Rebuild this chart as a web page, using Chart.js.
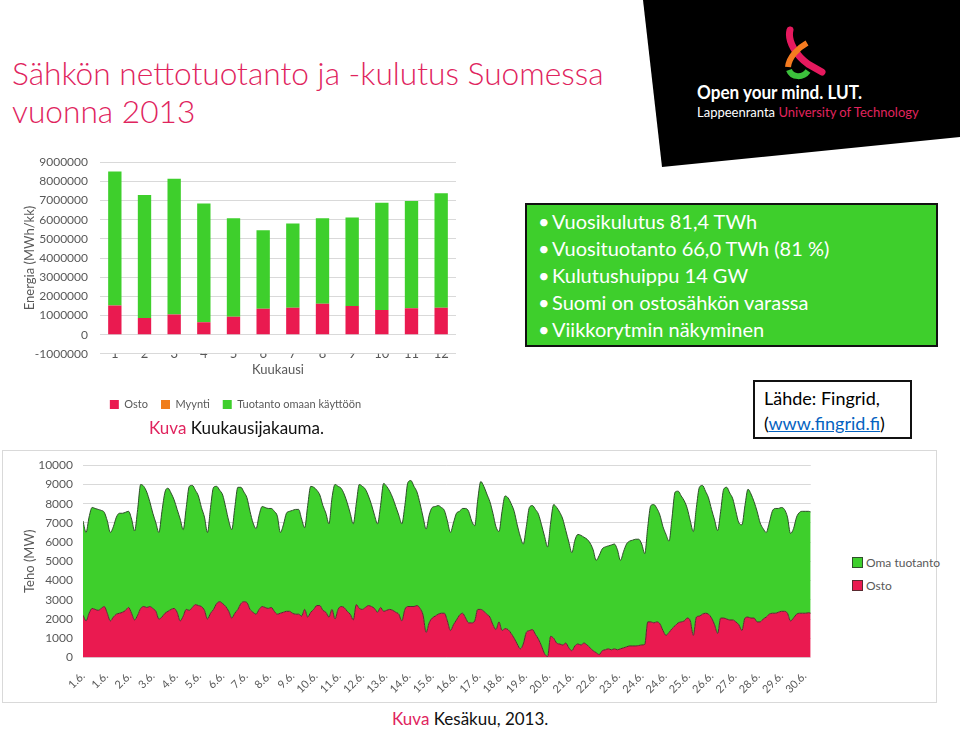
<!DOCTYPE html>
<html>
<head>
<meta charset="utf-8">
<script src="https://cdn.jsdelivr.net/npm/chart.js@4.4.1/dist/chart.umd.min.js"></script>
<style>
  body { margin: 0; width: 960px; height: 732px; position: relative; overflow: hidden; background: #fff; font-family: Lato, "Open Sans", sans-serif; }
  .abs { position: absolute; }
  #title { left: 12px; top: 54px; font-size: 31.7px; line-height: 38px; color: #e0245e; font-weight: 300; white-space: nowrap; }
  #logo { left: 640px; top: 0; width: 320px; height: 170px; background: #000; clip-path: polygon(3px 0, 320px 0, 320px 137px, 22px 167px); }
  #logo .l1 { position: absolute; left: 57px; top: 80px; color: #fff; font-size: 19px; font-weight: 700; white-space: nowrap; transform: scaleX(0.9); transform-origin: left; }
  #logo .l2 { position: absolute; left: 57px; top: 104px; color: #fff; font-size: 13px; white-space: nowrap; }
  #logo .l2 span { color: #e0245e; }
  #info { left: 525px; top: 203px; width: 409px; height: 137px; background: #3ecf2c; border: 2px solid #111; color: #fff; font-size: 20px; padding-top: 3px; box-sizing: content-box; }
  #info div { height: 27px; line-height: 27px; padding-left: 25px; position: relative; white-space: nowrap; }
  #info div::before { content: "•"; position: absolute; left: 11px; }
  #src { left: 753px; top: 380px; width: 159px; height: 59px; border: 2px solid #111; font-size: 18px; line-height: 25px; padding: 4px 0 0 9px; box-sizing: border-box; white-space: nowrap; }
  #src a { color: #0563c1; text-decoration: underline; }
  .cap { font-size: 17px; color: #111; white-space: nowrap; }
  .cap b { color: #e0245e; font-weight: 400; }
  #frame { left: 2px; top: 450px; width: 935px; height: 253px; border: 1px solid #d9d9d9; box-sizing: border-box; }
  #leg2 { left: 852px; top: 556px; font-size: 12px; color: #595959; }
  #leg2 div { height: 23px; line-height: 14px; white-space: nowrap; }
  #leg2 i { display: inline-block; width: 9px; height: 9px; margin-right: 3px; vertical-align: -1px; border: 1px solid; }
</style>
</head>
<body>
<div id="title" class="abs">Sähkön nettotuotanto ja -kulutus Suomessa<br>vuonna 2013</div>

<div id="logo" class="abs">
  <svg style="position:absolute;left:138px;top:26px" width="50" height="55" viewBox="0 0 50 55">
    <path d="M12 4 C 9 16, 19 30, 30 38 L 44 46" fill="none" stroke="#e5195e" stroke-width="7" stroke-linecap="round"/>
    <path d="M29 17 C 20 22, 11 31, 10 41" fill="none" stroke="#f47b20" stroke-width="6"/>
    <path d="M11 44 C 14 52, 25 52, 30 45" fill="none" stroke="#3cc03c" stroke-width="6"/>
  </svg>
  <div class="l1">Open your mind. LUT.</div>
  <div class="l2">Lappeenranta <span>University of Technology</span></div>
</div>

<div class="abs" style="left:15px;top:143px;width:441px;height:277px"><canvas id="barChart"></canvas></div>
<div class="abs cap" style="left:149px;top:417px"><b>Kuva</b> Kuukausijakauma.</div>

<div id="info" class="abs">
  <div>Vuosikulutus 81,4 TWh</div>
  <div>Vuosituotanto 66,0 TWh (81 %)</div>
  <div>Kulutushuippu 14 GW</div>
  <div>Suomi on ostosähkön varassa</div>
  <div>Viikkorytmin näkyminen</div>
</div>

<div id="src" class="abs">Lähde: Fingrid,<br>(<a>www.fingrid.fi</a>)</div>

<div id="frame" class="abs"></div>
<div class="abs" style="left:1px;top:448px;width:817px;height:252px"><canvas id="areaChart"></canvas></div>
<div id="leg2" class="abs"></div>
<div class="abs cap" style="left:392px;top:708px"><b>Kuva</b> Kesäkuu, 2013.</div>

<script>
// Kuukausijakauma 2013 (MWh/kk)
const months = ['1', '2', '3', '4', '5', '6', '7', '8', '9', '10', '11', '12'];
const osto = [1520000, 870000, 1050000, 650000, 940000, 1350000, 1400000, 1610000, 1500000, 1290000, 1380000, 1400000];
const myynti = [0, 0, 0, 0, 0, 0, 0, 0, 0, 0, 0, 0];
const omaanKayttoon = [6990000, 6420000, 7080000, 6200000, 5140000, 4100000, 4400000, 4460000, 4620000, 5600000, 5600000, 5980000];

// Kesäkuu 2013, teho (MW) 3 h välein
const kulutus = [
  7100, 6500, 7300, 7800, 7750, 7700, 7650, 7550,
  7100, 6500, 6800, 7300, 7500, 7500, 7550, 7600,
  7200, 6580, 7700, 9000, 8900, 8600, 8100, 7500,
  7000, 6500, 7600, 8600, 8800, 8550, 8200, 7700,
  7200, 6650, 7800, 8900, 8950, 8700, 8400, 7800,
  7300, 6500, 7800, 8850, 8900, 8700, 8450, 7800,
  7100, 6650, 7800, 8850, 8850, 8600, 8300, 7600,
  7000, 6700, 7400, 7850, 7800, 7750, 7750, 7600,
  7350, 6500, 6900, 7500, 7600, 7650, 7700, 7700,
  7200, 6750, 7900, 8900, 8850, 8700, 8450, 7900,
  7500, 6950, 8300, 9000, 8900, 8800, 8500, 8050,
  7500, 6950, 8000, 9000, 8900, 8750, 8400, 7950,
  7400, 6950, 7900, 9050, 8900, 8650, 8300, 7850,
  7400, 6950, 7900, 9100, 9200, 8900, 8600, 8000,
  7300, 6680, 7400, 7800, 7850, 7900, 7800, 7650,
  7100, 6500, 7000, 7500, 7600, 7750, 7750, 7600,
  7100, 6850, 8200, 9150, 8900, 8500, 8100, 7500,
  6800, 6550, 7600, 8400, 8300, 8000, 7600, 6900,
  6300, 5900, 6800, 7800, 7900, 7700, 7450, 6900,
  6300, 5750, 7000, 7950, 7800, 7550, 7200, 6600,
  6000, 5450, 6100, 6400, 6350, 6250, 6150, 5950,
  5600, 5050, 5300, 5650, 5750, 5800, 5850, 5900,
  5600, 5050, 5500, 5900, 6050, 6100, 6150, 6150,
  5900, 5400, 6800, 7900, 7950, 7750, 7400, 6800,
  6400, 6050, 7300, 8600, 8650, 8400, 8150, 7750,
  7100, 6550, 7800, 8850, 8950, 8650, 8300, 7700,
  7150, 6600, 7600, 8750, 8850, 8550, 8250, 7600,
  7000, 6900, 7900, 8750, 8500, 8100, 7600, 7000,
  6700, 6500, 7000, 7600, 7750, 7750, 7800, 7700,
  7300, 6450, 6700, 7300, 7550, 7600, 7600, 7600,
  7570
];
const ostoTeho = [
  2200, 1900, 2300, 2550, 2500, 2450, 2550, 2650,
  2300, 1900, 2100, 2250, 2300, 2350, 2450, 2600,
  2300, 1950, 2200, 2550, 2650, 2600, 2650, 2550,
  2400, 2000, 2100, 2300, 2400, 2500, 2550, 2350,
  1900, 2150, 2500, 2450, 2600, 2750, 2700, 2650,
  2450, 2000, 2300, 2500, 2800, 2900, 2800, 2650,
  2400, 2050, 2300, 2500, 2800, 2900, 2850, 2500,
  2350, 2250, 2500, 2650, 2600, 2550, 2600, 2400,
  2250, 2300, 2350, 2400, 2400, 2300, 2250, 2250,
  2150, 2500, 2100, 2350, 2500, 2700, 2700, 2450,
  2350, 2100, 2500, 2000, 2500, 2650, 2600, 2400,
  2250, 1950, 2750, 2550, 2500, 2600, 2700, 2650,
  2550, 2350, 2600, 2400, 2450, 2500, 2450, 2350,
  2250, 1900, 2500, 2650, 2650, 2650, 2700, 2550,
  2200, 1300, 1800, 2050, 2150, 2250, 2300, 2300,
  1900, 1400, 1700, 1950, 2200, 2300, 2050, 1800,
  1800, 1900, 2500, 2500, 2400, 2250, 2100, 1700,
  1450, 1850, 1400, 1500, 1450, 1250, 1000, 700,
  450, 700, 1300, 1400, 1450, 1200, 950, 600,
  200, 50, 1100, 1000, 750, 700, 650, 750,
  500, 350, 600, 700, 650, 750, 650, 500,
  350, 250, 150, 350, 400, 450, 400, 450,
  400, 450, 500, 550, 600, 600, 600, 620,
  650, 680, 1850, 1850, 1800, 1850, 1750, 1400,
  1150, 1300, 1500, 1650, 1800, 1850, 1900, 2050,
  1900, 1150, 2100, 2150, 2250, 2300, 2250, 2050,
  1700, 1250, 2050, 2050, 2000, 1950, 1950, 1850,
  1700, 1400, 2050, 2100, 2050, 2050, 1850, 1850,
  2000, 2100, 2250, 2300, 2300, 2350, 2400, 2400,
  2300, 1900, 2050, 2250, 2300, 2300, 2300, 2330,
  2300
];
const dayLabels = ['1.6.', '1.6.', '2.6.', '3.6.', '4.6.', '5.6.', '6.6.', '7.6.', '8.6.', '9.6.',
  '10.6.', '11.6.', '12.6.', '13.6.', '14.6.', '15.6.', '16.6.', '17.6.', '18.6.', '19.6.',
  '20.6.', '21.6.', '22.6.', '23.6.', '24.6.', '24.6.', '25.6.', '26.6.', '27.6.', '28.6.', '29.6.', '30.6.'];
const labelStep = 23; // tunnit
const lastHour = 719;

const RED = '#ea1a50', GREEN = '#3ecf2c', ORANGE = '#f07d1a', GREY = '#595959';
Chart.defaults.font.family = 'Lato, "Open Sans", sans-serif';
Chart.defaults.color = GREY;

new Chart(document.getElementById('barChart'), {
  type: 'bar',
  data: {
    labels: months,
    datasets: [
      { label: 'Osto', data: osto, backgroundColor: RED },
      { label: 'Myynti', data: myynti, backgroundColor: ORANGE },
      { label: 'Tuotanto omaan käyttöön', data: omaanKayttoon, backgroundColor: GREEN }
    ]
  },
  options: {
    responsive: true,
    maintainAspectRatio: false,
    animation: false,
    datasets: { bar: { categoryPercentage: 1, barPercentage: 0.45 } },
    layout: { padding: 0 },
    plugins: {
      legend: {
        position: 'bottom',
        labels: { boxWidth: 9, boxHeight: 9, padding: 13, font: { size: 11 } }
      },
      tooltip: { enabled: false }
    },
    scales: {
      x: {
        stacked: true,
        grid: { display: false },
        border: { display: false },
        ticks: { padding: -16, font: { size: 13 } },
        title: { display: true, text: 'Kuukausi', font: { size: 13 }, padding: { top: 17, bottom: 8 } }
      },
      y: {
        stacked: true,
        min: -1000000,
        max: 9000000,
        afterFit: s => { s.width = 85; },
        grid: { color: '#d9d9d9', drawTicks: false },
        border: { display: false },
        ticks: { stepSize: 1000000, padding: 12, font: { size: 12 }, callback: v => String(v) },
        title: { display: true, text: 'Energia (MWh/kk)', font: { size: 13 }, padding: { top: 7, bottom: 0 } }
      }
    }
  }
});

const hours = kulutus.map((v, i) => Math.min(i * 3, lastHour));
const areaChart = new Chart(document.getElementById('areaChart'), {
  type: 'line',
  data: {
    datasets: [
      {
        label: 'Osto',
        data: ostoTeho.map((v, i) => ({ x: hours[i], y: v })),
        fill: 'origin',
        backgroundColor: RED,
        borderColor: '#5a2a30',
        borderWidth: 1,
        pointRadius: 0,
        cubicInterpolationMode: 'monotone'
      },
      {
        label: 'Oma tuotanto',
        data: kulutus.map((v, i) => ({ x: hours[i], y: v })),
        fill: '-1',
        backgroundColor: GREEN,
        borderColor: '#2f4f2a',
        borderWidth: 1,
        pointRadius: 0,
        cubicInterpolationMode: 'monotone'
      }
    ]
  },
  options: {
    responsive: true,
    maintainAspectRatio: false,
    animation: false,
    layout: { padding: 0 },
    plugins: { legend: { display: false }, tooltip: { enabled: false } },
    scales: {
      x: {
        type: 'linear',
        min: 0,
        max: lastHour,
        afterBuildTicks: axis => { axis.ticks = dayLabels.map((l, i) => ({ value: i * labelStep })); },
        grid: { display: false },
        border: { display: false },
        ticks: { autoSkip: false, minRotation: 45, maxRotation: 45, padding: 4, font: { size: 11 },
          callback: (v, i) => dayLabels[i] }
      },
      y: {
        min: 0,
        max: 10000,
        afterFit: s => { s.width = 82; },
        grid: { color: '#d9d9d9', drawTicks: false },
        border: { display: false },
        ticks: { stepSize: 1000, padding: 10, font: { size: 12 }, callback: v => String(v) },
        title: { display: true, text: 'Teho (MW)', font: { size: 13 }, padding: { top: 21, bottom: 0 } }
      }
    }
  }
});

// oikean puolen selite
const leg = document.getElementById('leg2');
areaChart.data.datasets.slice().reverse().forEach(ds => {
  const row = document.createElement('div');
  row.innerHTML = '<i style="background:' + ds.backgroundColor + ';border-color:' + ds.borderColor + '"></i>' + ds.label;
  leg.appendChild(row);
});
</script>
</body>
</html>
